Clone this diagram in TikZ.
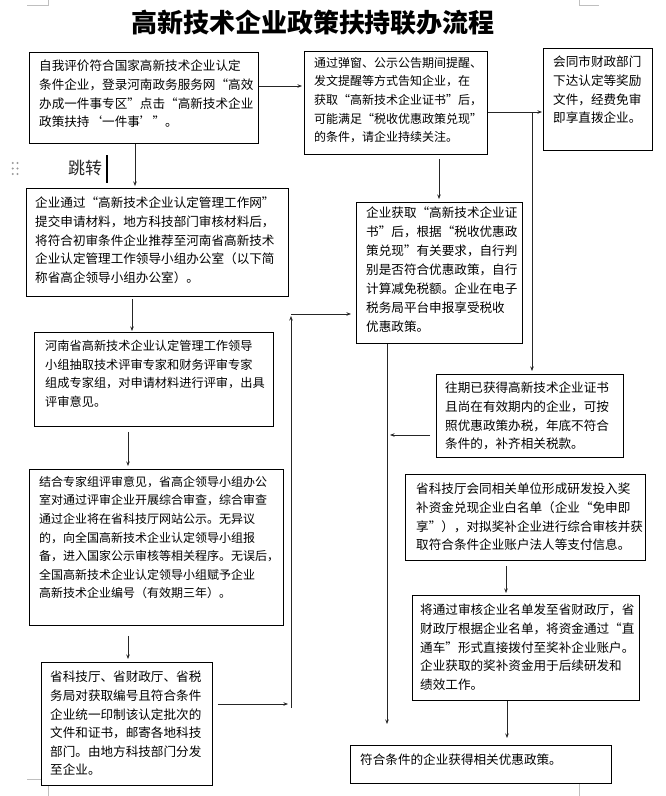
\documentclass[tikz,border=0pt]{standalone}
\usepackage{fontspec}
\newfontfamily\cjk{Noto Sans CJK SC}
\usetikzlibrary{arrows.meta}
\begin{document}
\begin{tikzpicture}[x=1pt,y=-1pt,
  box/.style={draw=black, line width=0.8pt, fill=white, inner sep=0pt, anchor=north west},
  txt/.style={inner sep=0pt, anchor=north west, align=left, font=\cjk\fontsize{12.6}{18.6}\selectfont},
  txtf/.style={inner sep=0pt, anchor=north west, align=left, font=\cjk\fontsize{#1}{18.6}\selectfont},
  arr/.style={draw=black!85, line width=0.7pt, -{Stealth[length=4.5pt,width=3.5pt]}},
  cropmark/.style={draw=black!25, line width=0.6pt}]
\useasboundingbox (0,0) rectangle (666,796);
% page corner marks
\draw[cropmark] (27,5) -- (48,5) -- (48,0);
\draw[cropmark] (599,5) -- (579,5) -- (579,0);
\draw[cropmark] (27,779) -- (48,779) -- (48,796);
\draw[cropmark] (599,779) -- (579,779) -- (579,796);
% title
\node[font=\cjk\bfseries\fontsize{26}{30}\selectfont, inner sep=0pt] (title) at (313,23) {高新技术企业政策扶持联办流程};
% boxes
\node[box, minimum width=229pt, minimum height=91pt] (b1) at (29,52) {};
\node[txt] (t1) at (39,60) {自我评价符合国家高新技术企业认定\\条件企业，登录河南政务服务网“高效\\办成一件事专区”点击“高新技术企业\\政策扶持‘一件事’”。};
\node[box, minimum width=183pt, minimum height=103pt] (b2) at (304,51) {};
\node[txtf=12] (t2) at (314,57) {通过弹窗、公示公告期间提醒、\\发文提醒等方式告知企业，在\\获取“高新技术企业证书”后，\\可能满足“税收优惠政策兑现”\\的条件，请企业持续关注。};
\node[box, minimum width=109pt, minimum height=102pt] (b3) at (543,48) {};
\node[txt] (t3) at (553,56) {会同市财政部门\\下达认定等奖励\\文件，经费免审\\即享直拨企业。};
\node[box, minimum width=262pt, minimum height=108pt] (b4) at (26,188) {};
\node[txt] (t4) at (35,197) {企业通过“高新技术企业认定管理工作网”\\提交申请材料，地方科技部门审核材料后，\\将符合初审条件企业推荐至河南省高新技术\\企业认定管理工作领导小组办公室（以下简\\称省高企领导小组办公室）。};
\node[box, minimum width=166pt, minimum height=141pt] (b5) at (356,202) {};
\node[inner sep=0pt, anchor=north west, align=left, font=\cjk\fontsize{12.6}{19}\selectfont] (t5) at (366,207) {企业获取“高新技术企业证\\书”后，根据“税收优惠政\\策兑现”有关要求，自行判\\别是否符合优惠政策，自行\\计算减免税额。企业在电子\\税务局平台申报享受税收\\优惠政策。};
\node[box, minimum width=239pt, minimum height=94pt] (b6) at (34,332) {};
\node[txtf=12.2] (t6) at (45,340) {河南省高新技术企业认定管理工作领导\\小组抽取技术评审专家和财务评审专家\\组成专家组，对申请材料进行评审，出具\\评审意见。};
\node[box, minimum width=187pt, minimum height=83pt] (b7) at (436,374) {};
\node[txt] (t7) at (445,382) {往期已获得高新技术企业证书\\且尚在有效期内的企业，可按\\照优惠政策办税，年底不符合\\条件的，补齐相关税款。};
\node[box, minimum width=254pt, minimum height=156pt] (b8) at (29,469) {};
\node[txtf=12] (t8) at (39,476) {结合专家组评审意见，省高企领导小组办公\\室对通过评审企业开展综合审查，综合审查\\通过企业将在省科技厅网站公示。无异议\\的，向全国高新技术企业认定领导小组报\\备，进入国家公示审核等相关程序。无误后，\\全国高新技术企业认定领导小组赋予企业\\高新技术企业编号（有效期三年）。};
\node[box, minimum width=240pt, minimum height=86pt] (b9) at (405,474) {};
\node[txt] (t9) at (416,483) {省科技厅会同相关单位形成研发投入奖\\补资金兑现企业白名单（企业“免申即\\享”），对拟奖补企业进行综合审核并获\\取符合条件企业账户法人等支付信息。};
\node[box, minimum width=227pt, minimum height=105pt] (b10) at (412,595) {};
\node[txt] (t10) at (420,604) {将通过审核企业名单发至省财政厅，省\\财政厅根据企业名单，将资金通过“直\\通车”形式直接拨付至奖补企业账户。\\企业获取的奖补资金用于后续研发和\\绩效工作。};
\node[box, minimum width=171pt, minimum height=123pt] (b11) at (41,662) {};
\node[txt] (t11) at (50,671) {省科技厅、省财政厅、省税\\务局对获取编号且符合条件\\企业统一印制该认定批次的\\文件和证书，邮寄各地科技\\部门。由地方科技部门分发\\至企业。};
\node[box, minimum width=261pt, minimum height=38pt] (b12) at (350,745) {};
\node[txt] (t12) at (360,754) {符合条件的企业获得相关优惠政策。};
% jump label, cursor, grip
\node[font=\cjk\fontsize{17}{20}\selectfont, anchor=west, inner sep=0pt, text=black!85] (jump) at (68,168) {跳转};
\draw[line width=2pt] (107,155) -- (107,183);
\foreach \gx in {12.7,17.5}{\foreach \gy in {163,168.5,174}{\fill[black!40] (\gx,\gy) circle (1.1pt);}}
% junction coordinates
\coordinate (j1) at (532,112);
\coordinate (e1) at (387,724);
\coordinate (e2) at (390,435);
\coordinate (e3) at (288,704);
\coordinate (v1) at (291,708);
\coordinate (v2) at (291,316);
% connectors
\draw[arr] (b1.east |- 0,86) -- ([xshift=-2pt]b2.west |- 0,86);
\draw[arr] (b2.east |- 0,112) -- ([xshift=-1pt]b3.west |- 0,112);
\draw[arr] (j1) -- ([yshift=3pt]j1 |- b7.north);
\draw[arr] (b1.south -| 135,0) -- ([yshift=2pt]b4.north -| 135,0);
\draw[arr] ([yshift=-4pt]b2.south -| 439,0) -- ([yshift=3pt]b5.north -| 439,0);
\draw[arr] ([yshift=-2pt]b4.south -| 132,0) -- ([yshift=1pt]b6.north -| 132,0);
\draw[arr] ([yshift=-5pt]b6.south -| 128,0) -- ([yshift=3pt]b8.north -| 128,0);
\draw[arr] ([yshift=-10pt]b8.south -| 128,0) -- ([yshift=3pt]b11.north -| 128,0);
\draw[arr] ([yshift=-5pt]b9.south -| 506,0) -- ([yshift=2pt]b10.north -| 506,0);
\draw[arr] (b10.south -| 507,0) -- ([yshift=7pt]b12.north -| 507,0);
\draw[arr] (b5.south -| 387,0) -- (e1);
\draw[arr] ([xshift=-6pt]b7.west |- 0,435) -- (e2);
\draw[arr] ([xshift=5pt]b11.east |- 0,704) -- (e3);
\draw[arr] (v1) -- (v2);
\draw[arr] (v2 |- 0,314) -- ([xshift=-5pt]b5.west |- 0,314);
\end{tikzpicture}
\end{document}
